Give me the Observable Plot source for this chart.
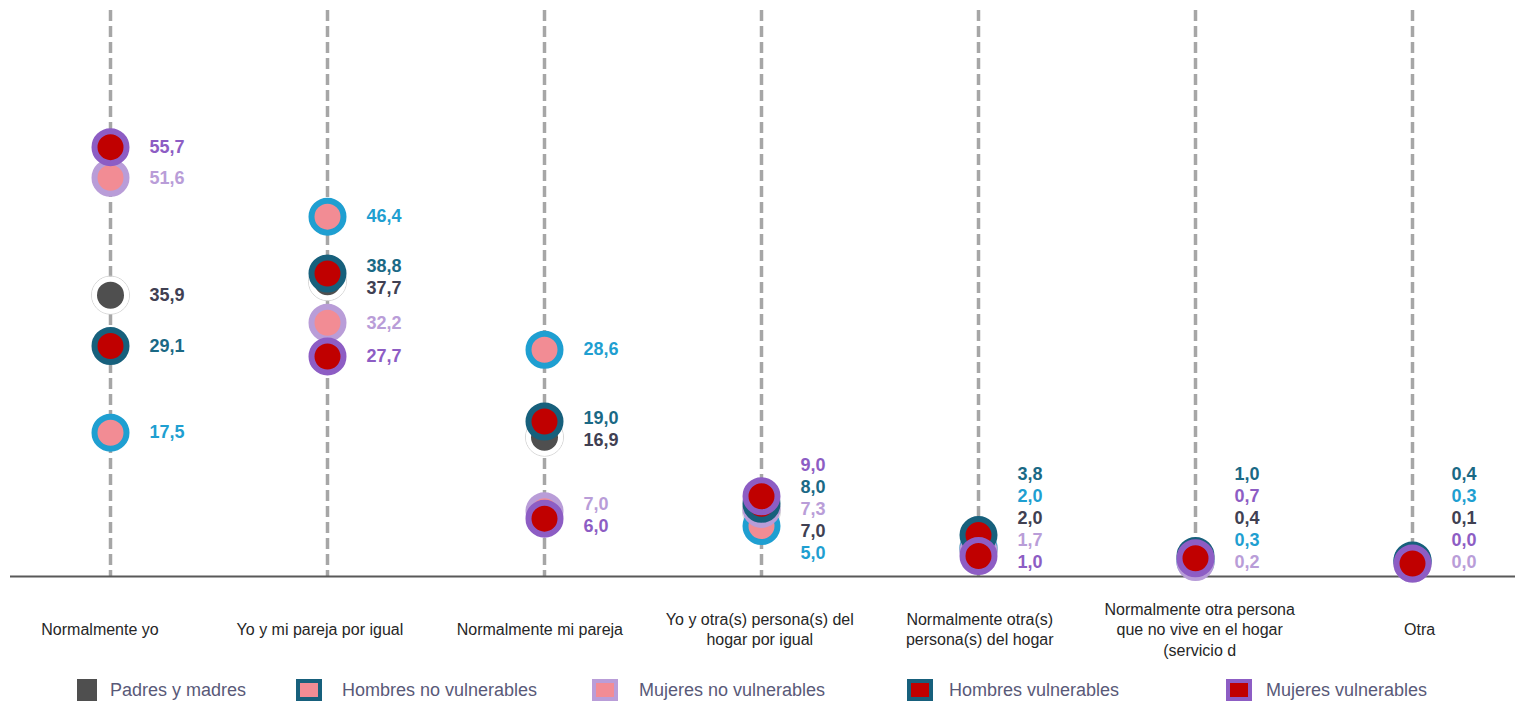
<!DOCTYPE html>
<html>
<head>
<meta charset="utf-8">
<script src="https://cdn.jsdelivr.net/npm/d3@7"></script>
<script src="https://cdn.jsdelivr.net/npm/@observablehq/plot@0.6"></script>
<style>
  html, body { margin: 0; padding: 0; background: #fff; }
  body { width: 1515px; height: 701px; overflow: hidden; font-family: "Liberation Sans", Arial, sans-serif; }
  #legend { position: relative; height: 33px; width: 1515px; }
  .sw { position: absolute; top: 11px; height: 22px; box-sizing: border-box; }
  .lab { position: absolute; top: 11px; font-size: 18px; color: #595978; line-height: 22px; white-space: nowrap; }
</style>
</head>
<body>
<div id="chart"></div>
<div id="legend"></div>
<script>
const categories = [
  "Normalmente yo",
  "Yo y mi pareja por igual",
  "Normalmente mi pareja",
  "Yo y otra(s) persona(s) del\nhogar por igual",
  "Normalmente otra(s)\npersona(s) del hogar",
  "Normalmente otra persona\nque no vive en el hogar\n(servicio d",
  "Otra"
];
const seriesNames = ["Padres y madres", "Hombres no vulnerables", "Mujeres no vulnerables", "Hombres vulnerables", "Mujeres vulnerables"];
const padres        = [35.9, 37.7, 16.9, 7.0, 2.0, 0.4, 0.1];
const hombresNoVuln = [17.5, 46.4, 28.6, 5.0, 2.0, 0.3, 0.3];
const mujeresNoVuln = [51.6, 32.2, 7.0, 7.3, 1.7, 0.2, 0.0];
const hombresVuln   = [29.1, 38.8, 19.0, 8.0, 3.8, 1.0, 0.4];
const mujeresVuln   = [55.7, 27.7, 6.0, 9.0, 1.0, 0.7, 0.0];

const seriesValues = [padres, hombresNoVuln, mujeresNoVuln, hombresVuln, mujeresVuln];
const styles = [
  {fill: "#4f4f4f", stroke: "#ffffff", label: "#404052", sw: 5},
  {fill: "#f28c94", stroke: "#1f9fd1", label: "#1f9fd1", sw: 6},
  {fill: "#f28c94", stroke: "#b99dd8", label: "#b99dd8", sw: 6},
  {fill: "#c00000", stroke: "#17607c", label: "#1a6985", sw: 6},
  {fill: "#c00000", stroke: "#8d5dc4", label: "#8d5dc4", sw: 6}
];

const W = 1515, H = 668, mTop = 10, mBottom = 92, mLeft = 108, mRight = 101;
const yDomain = [-1.74, 73.98];
const yScale = Plot.scale({y: {domain: yDomain, range: [H - mBottom, mTop]}});

// long table
const rows = [];
seriesNames.forEach((s, si) => {
  seriesValues[si].forEach((v, ci) => rows.push({series: s, si, cat: categories[ci], ci, value: v}));
});

// label collision avoidance (in pixels)
const GAP = 22, BOTTOM = 562;
categories.forEach((c, ci) => {
  const items = rows.filter(r => r.ci === ci).map(r => ({r, t: yScale.apply(r.value)}));
  items.sort((a, b) => a.t - b.t || b.r.si - a.r.si);
  let clusters = items.map(it => ({members: [it]}));
  const top = cl => d3.mean(cl.members, m => m.t) - (cl.members.length - 1) * GAP / 2;
  let changed = true;
  while (changed) {
    changed = false;
    for (let i = 0; i < clusters.length - 1; i++) {
      const a = clusters[i], b = clusters[i + 1];
      if (top(a) + a.members.length * GAP > top(b)) {
        clusters.splice(i, 2, {members: a.members.concat(b.members)});
        changed = true; break;
      }
    }
  }
  const pos = [];
  clusters.forEach(cl => { const t0 = top(cl); cl.members.forEach((m, k) => pos.push(t0 + k * GAP)); });
  for (let i = pos.length - 1; i >= 0; i--) {
    const lim = i === pos.length - 1 ? BOTTOM : pos[i + 1] - GAP;
    if (pos[i] > lim) pos[i] = lim;
  }
  items.forEach((it, k) => { it.r.ly = yScale.invert(pos[k]); });
});

const fmt = v => v.toFixed(1).replace(".", ",");

const marks = [
  Plot.ruleX(categories, {x: d => d, stroke: "#a6a6a6", strokeWidth: 3.5, strokeDasharray: "11,5"}),
  Plot.ruleY([yDomain[0]], {stroke: "#595959", strokeWidth: 2, insetLeft: -98, insetRight: -101}),
  Plot.dot(rows.filter(r => r.si === 0), {x: "cat", y: "value", r: 19, fill: "none", stroke: "#d6d6d6", strokeWidth: 1})
];
seriesNames.forEach((s, si) => {
  marks.push(Plot.dot(rows.filter(r => r.si === si), {
    x: "cat", y: "value", r: 16, fill: styles[si].fill, stroke: styles[si].stroke, strokeWidth: styles[si].sw
  }));
});
seriesNames.forEach((s, si) => {
  marks.push(Plot.text(rows.filter(r => r.si === si), {
    x: "cat", y: "ly", text: d => fmt(d.value), fill: styles[si].label,
    dx: 39, textAnchor: "start", fontWeight: "bold", fontSize: 18
  }));
});
// category labels: spread slightly wider than the dot columns, as in the original
const step = (W - mLeft - mRight) / (categories.length - 1);
categories.forEach((c, i) => {
  const labelCenter = 97.5 + i * 220.6;
  const lineX = mLeft + i * step;
  marks.push(Plot.text([c], {
    x: d => d, text: d => d, frameAnchor: "bottom", dy: 52, dx: labelCenter - lineX,
    lineAnchor: "middle", lineHeight: 1.28, fontSize: 16, fill: "#262626"
  }));
});

const chart = Plot.plot({
  width: W, height: H,
  marginTop: mTop, marginBottom: mBottom, marginLeft: mLeft, marginRight: mRight,
  style: {fontFamily: "'Liberation Sans', Arial, sans-serif", background: "#fff", overflow: "visible"},
  x: {type: "point", domain: categories, padding: 0, axis: null},
  y: {domain: yDomain, axis: null},
  marks
});
document.getElementById("chart").appendChild(chart);

// legend
const swLefts = [77, 296, 592, 907, 1226];
const labLefts = [110, 342, 639, 949, 1266];
const legend = document.getElementById("legend");
seriesNames.forEach((s, si) => {
  const sw = document.createElement("div");
  sw.className = "sw";
  sw.style.left = swLefts[si] + "px";
  if (si === 0) { sw.style.background = "#4f4f4f"; sw.style.width = "20px"; }
  else {
    sw.style.width = "26px";
    sw.style.background = styles[si].fill;
    sw.style.border = "4px solid " + (si === 1 ? "#17607c" : styles[si].stroke);
  }
  const lab = document.createElement("div");
  lab.className = "lab";
  lab.style.left = labLefts[si] + "px";
  lab.textContent = s;
  legend.appendChild(sw); legend.appendChild(lab);
});
</script>
</body>
</html>
